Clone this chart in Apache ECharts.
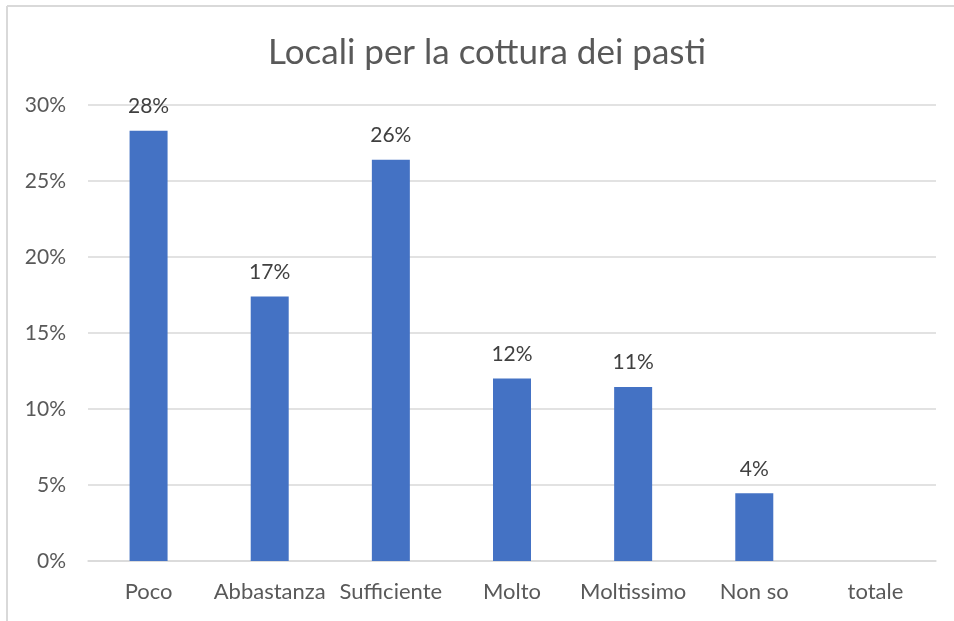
<!DOCTYPE html>
<html>
<head>
<meta charset="utf-8">
<script src="https://cdn.jsdelivr.net/npm/echarts@6/dist/echarts.min.js"></script>
<style>
  html, body { margin: 0; padding: 0; background: #ffffff; }
  #chart { width: 954px; height: 621px; }
</style>
</head>
<body>
<div id="chart"></div>
<script>
// Survey answers for "Locali per la cottura dei pasti" (share of respondents, %)
const categories = ['Poco', 'Abbastanza', 'Sufficiente', 'Molto', 'Moltissimo', 'Non so', 'totale'];
const shares = [28.3, 17.4, 26.4, 12.0, 11.45, 4.45, null];
const yTicks = [0, 5, 10, 15, 20, 25, 30];

const FONT = 'Lato, "Open Sans", sans-serif';
const chart = echarts.init(document.getElementById('chart'), null, { renderer: 'canvas' });

chart.setOption({
  backgroundColor: '#ffffff',
  animation: false,
  title: {
    text: 'Locali per la cottura dei pasti',
    left: 263,
    top: 30,
    textStyle: { fontFamily: FONT, fontSize: 35, fontWeight: 'normal', color: '#595959' }
  },
  grid: { left: 88, right: 18, top: 105, bottom: 60, containLabel: false },
  xAxis: {
    type: 'category',
    data: categories,
    axisLine: { show: true, lineStyle: { color: '#d9d9d9', width: 1.5 } },
    axisTick: { show: false },
    axisLabel: { fontFamily: FONT, fontSize: 22, color: '#595959', margin: 20, interval: 0 }
  },
  yAxis: {
    type: 'value',
    min: yTicks[0],
    max: yTicks[yTicks.length - 1],
    interval: 5,
    axisLine: { show: false },
    axisTick: { show: false },
    splitLine: { lineStyle: { color: '#d9d9d9', width: 1.5 } },
    axisLabel: { fontFamily: FONT, fontSize: 21, color: '#595959', margin: 22, formatter: v => v + '%' }
  },
  series: [{
    type: 'bar',
    data: shares,
    barWidth: 38,
    itemStyle: { color: '#4472c4' },
    label: {
      show: true,
      position: 'top',
      distance: 14,
      fontFamily: FONT,
      fontSize: 21,
      color: '#404040',
      formatter: p => (p.value == null ? '' : Math.round(p.value) + '%')
    }
  }],
  graphic: [
    { type: 'line', shape: { x1: 7, y1: 6, x2: 954, y2: 6 }, style: { stroke: '#d9d9d9', lineWidth: 2 } },
    { type: 'line', shape: { x1: 7, y1: 6, x2: 7, y2: 621 }, style: { stroke: '#d9d9d9', lineWidth: 2 } }
  ]
});
</script>
</body>
</html>
